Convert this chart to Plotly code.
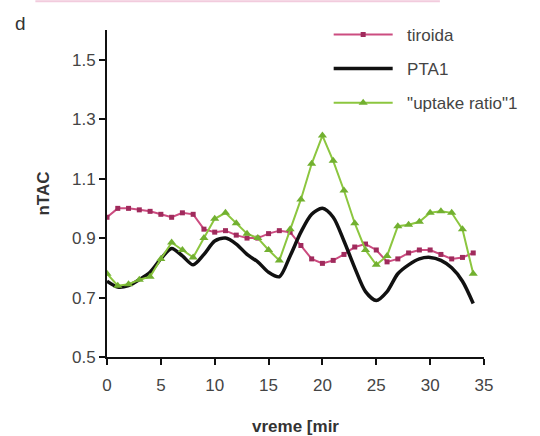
import plotly.graph_objects as go

time = list(range(0, 35))
tiroida = [0.97, 1.00, 1.00, 0.995, 0.99, 0.98, 0.97, 0.985, 0.98, 0.93,
           0.92, 0.925, 0.91, 0.90, 0.90, 0.915, 0.925, 0.92, 0.875, 0.83,
           0.815, 0.825, 0.845, 0.87, 0.88, 0.86, 0.82, 0.83, 0.85, 0.86,
           0.86, 0.845, 0.83, 0.835, 0.85]
pta1 = [0.755, 0.735, 0.74, 0.76, 0.785, 0.83, 0.865, 0.84, 0.81, 0.845,
        0.89, 0.90, 0.88, 0.845, 0.82, 0.785, 0.77, 0.84, 0.92, 0.98,
        1.00, 0.97, 0.89, 0.80, 0.72, 0.69, 0.72, 0.78, 0.81, 0.83,
        0.835, 0.825, 0.80, 0.755, 0.68]
uptake = [0.78, 0.74, 0.745, 0.76, 0.77, 0.83, 0.885, 0.86, 0.835, 0.90,
          0.965, 0.985, 0.95, 0.915, 0.90, 0.86, 0.825, 0.93, 1.03, 1.15,
          1.245, 1.16, 1.06, 0.95, 0.86, 0.81, 0.84, 0.94, 0.945, 0.955,
          0.985, 0.99, 0.985, 0.93, 0.78]

x_ticks = [0, 5, 10, 15, 20, 25, 30, 35]
y_ticks = [0.5, 0.7, 0.9, 1.1, 1.3, 1.5]

FONT = "Liberation Sans, Arial, sans-serif"
PAD = "\u00a0\u00a0"

fig = go.Figure()
fig.add_trace(go.Scatter(
    x=time, y=tiroida, name=PAD + "tiroida", mode="lines+markers",
    line=dict(color="#cc4c80", width=2),
    marker=dict(symbol="square", size=5, color="#a02a5c"),
    legendgroup="a"))
fig.add_trace(go.Scatter(
    x=time, y=pta1, name=PAD + "PTA1", mode="lines",
    line=dict(color="#111111", width=3.5, shape="spline", smoothing=0.8),
    legendgroup="b"))
fig.add_trace(go.Scatter(
    x=time, y=uptake, name=PAD + '"uptake ratio"1', mode="lines+markers",
    line=dict(color="#8cc63f", width=2),
    marker=dict(symbol="triangle-up", size=8, color="#72b030"),
    legendgroup="c"))

axis_common = dict(
    showline=True, linecolor="#111111", linewidth=2,
    ticks="outside", tickcolor="#111111", tickwidth=2, ticklen=6,
    showgrid=False, zeroline=False, automargin=False,
    tickfont=dict(family=FONT, size=17, color="#444444"),
)

fig.update_xaxes(range=[0, 35], tickvals=x_ticks, ticklabelstandoff=6,
                 **axis_common,
                 title=dict(text="<b>vreme [mir</b>", standoff=26,
                            font=dict(family=FONT, size=17, color="#333333")))
fig.update_yaxes(range=[0.5, 1.6], tickvals=y_ticks,
                 ticktext=[f"{v:.1f}" for v in y_ticks], **axis_common,
                 title=dict(text="<b>nTAC</b>", standoff=18,
                            font=dict(family=FONT, size=17, color="#333333")))

fig.update_layout(
    width=540, height=436,
    margin=dict(l=107, r=56, t=30, b=79),
    paper_bgcolor="white", plot_bgcolor="white",
    showlegend=True,
    legend=dict(x=0.588, y=1.04, xanchor="left", yanchor="top",
                font=dict(family=FONT, size=17, color="#444444"),
                bgcolor="rgba(0,0,0,0)", itemwidth=59, tracegroupgap=9),
    annotations=[dict(text="d", xref="paper", yref="paper",
                      x=-0.25, y=1.02, xanchor="left", yanchor="middle",
                      showarrow=False,
                      font=dict(family=FONT, size=19, color="#333333"))],
    shapes=[dict(type="line", xref="paper", yref="paper",
                 x0=-0.19, x1=0.883, y0=1.088, y1=1.088,
                 line=dict(color="#f2cbdd", width=2))],
)

fig.write_html("out.html")
